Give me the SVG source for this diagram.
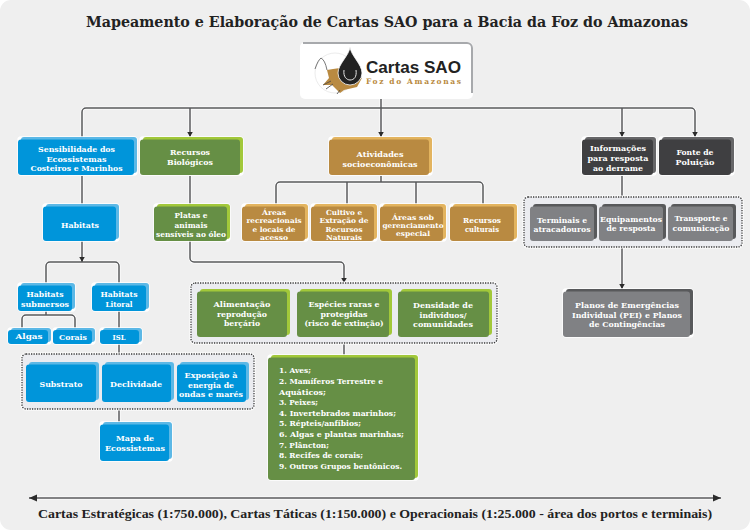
<svg xmlns="http://www.w3.org/2000/svg" width="750" height="530" viewBox="0 0 750 530">
<style>
text{font-family:"DejaVu Serif","Liberation Serif",serif;font-weight:700}
.t{fill:#fff;font-size:8px;text-anchor:middle}
.s{fill:#fff;font-size:7px;text-anchor:middle}
.l{fill:#fff;font-size:8.2px}
.halo{fill:#fff;stroke:#fff;stroke-width:1.4}
.b1{fill:#5cb8e6}.b2{fill:#0095da}
.g1{fill:#a2c83a}.g2{fill:#668f45}
.o1{fill:#e3b45f}.o2{fill:#b98a41}
.d1{fill:#666668}.d2{fill:#3f3f41}
.y1{fill:#58595b}.y2{fill:#808184}
.dot{fill:#ebecf0;stroke:#3c3c3c;stroke-width:1.3;stroke-dasharray:1.3 1.2}
.dothalo{fill:none;stroke:#fff;stroke-width:3}
.cw{fill:none;stroke:#fff;stroke-width:3}
.c{fill:none;stroke:#58595b;stroke-width:1.5}
</style>
<defs>
<marker id="a" markerUnits="userSpaceOnUse" markerWidth="6" markerHeight="6" refX="5.500" refY="3" orient="auto"><path d="M0 0L5.500 3L0 6Z" fill="#2b2b2b"/></marker>
<marker id="b" markerUnits="userSpaceOnUse" markerWidth="9" markerHeight="8" refX="8" refY="4" orient="auto-start-reverse"><path d="M0 .5L8 4L0 7.500Z" fill="#2b2b2b"/></marker>
</defs>
<rect width="750" height="530" fill="#fff"/>
<rect x="0" y="0" width="750" height="530" rx="11" fill="#efefef"/>
<text x="387" y="27" font-size="15.500" text-anchor="middle" fill="#222" textLength="602" lengthAdjust="spacingAndGlyphs">Mapeamento e Elaboração de Cartas SAO para a Bacia da Foz do Amazonas</text>

<g id="connectors">
<g class="cw">
<path d="M82 137V112a4 4 0 0 1 4-4H691a4 4 0 0 1 4 4V137M190 108V137M381 98V137M622 108V137"/>
<path d="M82 176V204M82 241V262M46 283V266a4 4 0 0 1 4-4H115a4 4 0 0 1 4 4V283"/>
<path d="M190 176V204M190 241V258a4 4 0 0 0 4 4H340a4 4 0 0 1 4 4V283"/>
<path d="M381 176V182M276 204V186a4 4 0 0 1 4-4H479a4 4 0 0 1 4 4V204M347 182V204M416 182V204"/>
<path d="M46 311V315M22 328V319a4 4 0 0 1 4-4H71a4 4 0 0 1 4 4V328M119 311V328M119 344V354M119 409V422"/>
<path d="M344 343V355M622 176V197M622 247V289"/>
<path d="M30 498H721"/>
</g>
<g class="c">
<path d="M82 137V112a4 4 0 0 1 4-4H691a4 4 0 0 1 4 4V137" marker-end="url(#a)"/>
<path d="M190 108V137" marker-end="url(#a)"/><path d="M381 98V137" marker-end="url(#a)"/><path d="M622 108V137" marker-end="url(#a)"/>
<path d="M82 176V204"/><path d="M82 241V262" marker-end="url(#a)"/>
<path d="M46 283V266a4 4 0 0 1 4-4H115a4 4 0 0 1 4 4V283"/>
<path d="M190 176V204"/><path d="M190 241V258a4 4 0 0 0 4 4H340a4 4 0 0 1 4 4V283" marker-end="url(#a)"/>
<path d="M381 176V182"/><path d="M276 204V186a4 4 0 0 1 4-4H479a4 4 0 0 1 4 4V204"/><path d="M347 182V204"/><path d="M416 182V204"/>
<path d="M46 311V315"/><path d="M22 328V319a4 4 0 0 1 4-4H71a4 4 0 0 1 4 4V328"/>
<path d="M119 311V328"/><path d="M119 344V354"/><path d="M119 409V422"/>
<path d="M344 343V355"/><path d="M622 176V197"/><path d="M622 247V289" marker-end="url(#a)"/>
<path d="M29 498H721" marker-start="url(#b)" marker-end="url(#b)"/>
</g>
</g>

<g id="logo">
<rect x="300" y="42" width="173" height="57" rx="5" fill="#fff"/>
<path d="M303 43H467a5 5 0 0 1 5 5V93" fill="none" stroke="#a7a9ac" stroke-width="2"/>
<circle cx="335" cy="73" r="20" fill="none" stroke="#ececec" stroke-width="1"/>
<path d="M327 70L333 69L340 68L344 80L354 80L362 78L357 87L344 90L340 93L332 85L323 85L329 78Z" fill="#b98a41"/>
<path d="M315 69Q318 60 321 58Q325 60 327 70" fill="none" stroke="#555" stroke-width="0.8"/>
<path d="M323 85L331 81M326 89L333 84M337 94L340 90" stroke="#444" stroke-width="0.8" fill="none"/>
<path d="M350 47C351 56 362 64 362 73A12 12 0 0 1 338 73C338 64 349 56 350 47Z" fill="#222" stroke="#fff" stroke-width="0.8"/>
<path d="M344 70C343 77 347 80 350 80C354 80 357 77 356 70" fill="none" stroke="#e8e8e8" stroke-width="1"/>
<text x="366" y="73" font-size="17" textLength="95" lengthAdjust="spacingAndGlyphs" fill="#222" style="font-family:'Liberation Sans',sans-serif">Cartas SAO</text>
<text x="366" y="84" font-size="7.500" textLength="95" fill="#b98a41">Foz do Amazonas</text>
</g>

<g id="n-sens"><rect class="halo" x="18" y="137" width="119" height="38" rx="3"/><rect class="b1" x="21" y="137" width="116" height="36" rx="3"/><rect class="b2" x="18" y="139.500" width="116" height="35.500" rx="3"/>
<text class="t" x="76.500" y="152" textLength="77" lengthAdjust="spacingAndGlyphs">Sensibilidade dos</text><text class="t" x="76.500" y="161.500" textLength="60" lengthAdjust="spacingAndGlyphs">Ecossistemas</text><text class="t" x="76.500" y="171" textLength="92" lengthAdjust="spacingAndGlyphs">Costeiros e Marinhos</text></g>

<g id="n-rec"><rect class="halo" x="140" y="137" width="103" height="38" rx="3"/><rect class="g1" x="143" y="137" width="100" height="36" rx="3"/><rect class="g2" x="140" y="139.500" width="100" height="35.500" rx="3"/>
<text class="t" x="190" y="155" textLength="40" lengthAdjust="spacingAndGlyphs">Recursos</text><text class="t" x="190" y="165" textLength="46" lengthAdjust="spacingAndGlyphs">Biológicos</text></g>

<g id="n-ativ"><rect class="halo" x="329" y="137" width="103" height="38" rx="3"/><rect class="o1" x="332" y="137" width="100" height="36" rx="3"/><rect class="o2" x="329" y="139.500" width="100" height="35.500" rx="3"/>
<text class="t" x="380" y="157" textLength="47" lengthAdjust="spacingAndGlyphs">Atividades</text><text class="t" x="380" y="166.500" textLength="75" lengthAdjust="spacingAndGlyphs">socioeconômicas</text></g>

<g id="n-info"><rect class="halo" x="582" y="137" width="74" height="38" rx="3"/><rect class="d1" x="585" y="137" width="71" height="36" rx="3"/><rect class="d2" x="582" y="139.500" width="71" height="35.500" rx="3"/>
<text class="t" x="618" y="151" textLength="56" lengthAdjust="spacingAndGlyphs">Informações</text><text class="t" x="618" y="161" textLength="61" lengthAdjust="spacingAndGlyphs">para resposta</text><text class="t" x="618" y="171" textLength="50" lengthAdjust="spacingAndGlyphs">ao derrame</text></g>

<g id="n-fonte"><rect class="halo" x="659" y="137" width="75" height="38" rx="3"/><rect class="d1" x="662" y="137" width="72" height="36" rx="3"/><rect class="d2" x="659" y="139.500" width="72" height="35.500" rx="3"/>
<text class="t" x="695" y="155" textLength="37" lengthAdjust="spacingAndGlyphs">Fonte de</text><text class="t" x="695" y="165" textLength="39" lengthAdjust="spacingAndGlyphs">Poluição</text></g>

<g id="n-hab"><rect class="halo" x="43" y="204" width="76" height="37" rx="3"/><rect class="b1" x="46" y="204" width="73" height="35" rx="3"/><rect class="b2" x="43" y="206.500" width="73" height="34.500" rx="3"/>
<text class="t" x="80" y="228" textLength="38" lengthAdjust="spacingAndGlyphs">Habitats</text></g>

<g id="n-plat"><rect class="halo" x="154" y="204" width="76" height="37" rx="3"/><rect class="g1" x="157" y="204" width="73" height="35" rx="3"/><rect class="g2" x="154" y="206.500" width="73" height="34.500" rx="3"/>
<text class="t" x="191" y="218" textLength="33" lengthAdjust="spacingAndGlyphs">Platas e</text><text class="t" x="191" y="227.500" textLength="33" lengthAdjust="spacingAndGlyphs">animais</text><text class="t" x="191" y="237" textLength="70" lengthAdjust="spacingAndGlyphs">sensíveis ao óleo</text></g>

<g id="n-areas"><rect class="halo" x="242" y="204" width="66" height="37" rx="3"/><rect class="o1" x="245" y="204" width="63" height="35" rx="3"/><rect class="o2" x="242" y="206.500" width="63" height="34.500" rx="3"/>
<text class="s" x="274" y="215" textLength="24" lengthAdjust="spacingAndGlyphs">Áreas</text><text class="s" x="274" y="223.300" textLength="55" lengthAdjust="spacingAndGlyphs">recreacionais</text><text class="s" x="274" y="231.600" textLength="43" lengthAdjust="spacingAndGlyphs">e locais de</text><text class="s" x="274" y="239.800" textLength="28" lengthAdjust="spacingAndGlyphs">acesso</text></g>

<g id="n-cult"><rect class="halo" x="311" y="204" width="66" height="37" rx="3"/><rect class="o1" x="314" y="204" width="63" height="35" rx="3"/><rect class="o2" x="311" y="206.500" width="63" height="34.500" rx="3"/>
<text class="s" x="344" y="215" textLength="36" lengthAdjust="spacingAndGlyphs">Cultivo e</text><text class="s" x="344" y="223.300" textLength="49" lengthAdjust="spacingAndGlyphs">Extração de</text><text class="s" x="344" y="231.600" textLength="37" lengthAdjust="spacingAndGlyphs">Recursos</text><text class="s" x="344" y="239.800" textLength="36" lengthAdjust="spacingAndGlyphs">Naturais</text></g>

<g id="n-sob"><rect class="halo" x="380" y="204" width="66" height="37" rx="3"/><rect class="o1" x="383" y="204" width="63" height="35" rx="3"/><rect class="o2" x="380" y="206.500" width="63" height="34.500" rx="3"/>
<text class="s" x="413" y="219.500" textLength="42" lengthAdjust="spacingAndGlyphs">Áreas sob</text><text class="s" x="413" y="227.800" textLength="61" lengthAdjust="spacingAndGlyphs">gerenciamento</text><text class="s" x="413" y="236.100" textLength="34" lengthAdjust="spacingAndGlyphs">especial</text></g>

<g id="n-cul"><rect class="halo" x="450" y="204" width="67" height="37" rx="3"/><rect class="o1" x="453" y="204" width="64" height="35" rx="3"/><rect class="o2" x="450" y="206.500" width="64" height="34.500" rx="3"/>
<text class="t" x="482" y="222.500" textLength="38" lengthAdjust="spacingAndGlyphs">Recursos</text><text class="t" x="482" y="231.800" textLength="34" lengthAdjust="spacingAndGlyphs">culturais</text></g>

<rect class="dothalo" x="524" y="197" width="218" height="50" rx="4"/><rect class="dot" x="524" y="197" width="218" height="50" rx="4"/>
<g id="n-term"><rect class="y1" x="533" y="204" width="64" height="35" rx="3"/><rect class="y2" x="530" y="206.500" width="64" height="34.500" rx="3"/>
<text class="t" x="562" y="222.500" textLength="50" lengthAdjust="spacingAndGlyphs">Terminais e</text><text class="t" x="562" y="232" textLength="57" lengthAdjust="spacingAndGlyphs">atracadouros</text></g>
<g id="n-equi"><rect class="y1" x="602" y="204" width="64" height="35" rx="3"/><rect class="y2" x="599" y="206.500" width="64" height="34.500" rx="3"/>
<text class="t" x="631" y="221.500" textLength="62" lengthAdjust="spacingAndGlyphs">Equipamentos</text><text class="t" x="631" y="231" textLength="49" lengthAdjust="spacingAndGlyphs">de resposta</text></g>
<g id="n-trans"><rect class="y1" x="671" y="204" width="65" height="35" rx="3"/><rect class="y2" x="668" y="206.500" width="65" height="34.500" rx="3"/>
<text class="t" x="701" y="221" textLength="53" lengthAdjust="spacingAndGlyphs">Transporte e</text><text class="t" x="701" y="231" textLength="57" lengthAdjust="spacingAndGlyphs">comunicação</text></g>

<g id="n-sub"><rect class="halo" x="18" y="283" width="57" height="28" rx="3"/><rect class="b1" x="21" y="283" width="54" height="26" rx="3"/><rect class="b2" x="18" y="285.500" width="54" height="25.500" rx="3"/>
<text class="t" x="45" y="297" textLength="37" lengthAdjust="spacingAndGlyphs">Habitats</text><text class="t" x="45" y="307" textLength="48" lengthAdjust="spacingAndGlyphs">submersos</text></g>
<g id="n-lit"><rect class="halo" x="92" y="283" width="57" height="28" rx="3"/><rect class="b1" x="95" y="283" width="54" height="26" rx="3"/><rect class="b2" x="92" y="285.500" width="54" height="25.500" rx="3"/>
<text class="t" x="119" y="297" textLength="37" lengthAdjust="spacingAndGlyphs">Habitats</text><text class="t" x="119" y="307" textLength="27" lengthAdjust="spacingAndGlyphs">Litoral</text></g>
<g id="n-alg"><rect class="halo" x="8" y="328" width="43" height="16" rx="3"/><rect class="b1" x="11" y="328" width="40" height="14" rx="3"/><rect class="b2" x="8" y="330" width="40" height="14" rx="3"/>
<text class="t" x="29" y="339" textLength="27" lengthAdjust="spacingAndGlyphs">Algas</text></g>
<g id="n-cor"><rect class="halo" x="53" y="328" width="42" height="16" rx="3"/><rect class="b1" x="56" y="328" width="39" height="14" rx="3"/><rect class="b2" x="53" y="330" width="39" height="14" rx="3"/>
<text class="t" x="73" y="340" textLength="28" lengthAdjust="spacingAndGlyphs">Corais</text></g>
<g id="n-isl"><rect class="halo" x="100" y="328" width="42" height="16" rx="3"/><rect class="b1" x="103" y="328" width="39" height="14" rx="3"/><rect class="b2" x="100" y="330" width="39" height="14" rx="3"/>
<text class="t" x="119" y="340" textLength="13" lengthAdjust="spacingAndGlyphs">ISL</text></g>

<rect class="dothalo" x="22" y="354" width="232" height="55" rx="4"/><rect class="dot" x="22" y="354" width="232" height="55" rx="4"/>
<g id="n-subs"><rect class="b1" x="29" y="362" width="70" height="38" rx="3"/><rect class="b2" x="26" y="364.500" width="70" height="37.500" rx="3"/>
<text class="t" x="61" y="387" textLength="43" lengthAdjust="spacingAndGlyphs">Substrato</text></g>
<g id="n-decl"><rect class="b1" x="105" y="362" width="69" height="38" rx="3"/><rect class="b2" x="102" y="364.500" width="69" height="37.500" rx="3"/>
<text class="t" x="136" y="387" textLength="52" lengthAdjust="spacingAndGlyphs">Declividade</text></g>
<g id="n-expo"><rect class="b1" x="180" y="362" width="69" height="38" rx="3"/><rect class="b2" x="177" y="364.500" width="69" height="37.500" rx="3"/>
<text class="t" x="211" y="378" textLength="53" lengthAdjust="spacingAndGlyphs">Exposição à</text><text class="t" x="211" y="387.500" textLength="46" lengthAdjust="spacingAndGlyphs">energia de</text><text class="t" x="211" y="397" textLength="64" lengthAdjust="spacingAndGlyphs">ondas e marés</text></g>
<g id="n-mapa"><rect class="halo" x="100" y="422" width="72" height="39" rx="3"/><rect class="b1" x="103" y="422" width="69" height="37" rx="3"/><rect class="b2" x="100" y="424.500" width="69" height="36.500" rx="3"/>
<text class="t" x="135" y="441" textLength="38" lengthAdjust="spacingAndGlyphs">Mapa de</text><text class="t" x="135" y="451" textLength="60" lengthAdjust="spacingAndGlyphs">Ecossistemas</text></g>

<rect class="dothalo" x="191" y="283" width="306" height="60" rx="4"/><rect class="dot" x="191" y="283" width="306" height="60" rx="4"/>
<g id="n-alim"><rect class="g1" x="200" y="289" width="90" height="46" rx="3"/><rect class="g2" x="197" y="291.500" width="90" height="45.500" rx="3"/>
<text class="t" x="242" y="307" textLength="57" lengthAdjust="spacingAndGlyphs">Alimentação</text><text class="t" x="242" y="316.500" textLength="50" lengthAdjust="spacingAndGlyphs">reprodução</text><text class="t" x="242" y="326" textLength="36" lengthAdjust="spacingAndGlyphs">berçário</text></g>
<g id="n-esp"><rect class="g1" x="300" y="289" width="92" height="46" rx="3"/><rect class="g2" x="297" y="291.500" width="92" height="45.500" rx="3"/>
<text class="t" x="344" y="307" textLength="71" lengthAdjust="spacingAndGlyphs">Espécies raras e</text><text class="t" x="344" y="316.500" textLength="47" lengthAdjust="spacingAndGlyphs">protegidas</text><text class="t" x="344" y="326" textLength="79" lengthAdjust="spacingAndGlyphs">(risco de extinção)</text></g>
<g id="n-dens"><rect class="g1" x="401" y="289" width="91" height="46" rx="3"/><rect class="g2" x="398" y="291.500" width="91" height="45.500" rx="3"/>
<text class="t" x="443" y="308" textLength="60" lengthAdjust="spacingAndGlyphs">Densidade de</text><text class="t" x="443" y="317.500" textLength="47" lengthAdjust="spacingAndGlyphs">indivíduos/</text><text class="t" x="443" y="327" textLength="60" lengthAdjust="spacingAndGlyphs">comunidades</text></g>

<g id="n-plan"><rect class="halo" x="563" y="289" width="130" height="48" rx="3"/><rect class="y1" x="566" y="289" width="127" height="46" rx="3"/><rect class="y2" x="563" y="291.500" width="127" height="45.500" rx="3"/>
<text class="t" x="627" y="308" textLength="104" lengthAdjust="spacingAndGlyphs">Planos de Emergências</text><text class="t" x="627" y="317.500" textLength="110" lengthAdjust="spacingAndGlyphs">Individual (PEI) e Planos</text><text class="t" x="627" y="327" textLength="76" lengthAdjust="spacingAndGlyphs">de Contingências</text></g>

<g id="n-list"><rect class="halo" x="268" y="355" width="150" height="125" rx="3"/><rect class="g1" x="271" y="355" width="147" height="123" rx="3"/><rect class="g2" x="268" y="357.500" width="147" height="122.500" rx="3"/>
<text class="l" x="279" y="373" textLength="32" lengthAdjust="spacingAndGlyphs">1. Aves;</text>
<text class="l" x="279" y="384" textLength="104" lengthAdjust="spacingAndGlyphs">2. Mamíferos Terrestre e</text>
<text class="l" x="279" y="395" textLength="47" lengthAdjust="spacingAndGlyphs">Aquáticos;</text>
<text class="l" x="279" y="405" textLength="39" lengthAdjust="spacingAndGlyphs">3. Peixes;</text>
<text class="l" x="279" y="416" textLength="117" lengthAdjust="spacingAndGlyphs">4. Invertebrados marinhos;</text>
<text class="l" x="279" y="426" textLength="82" lengthAdjust="spacingAndGlyphs">5. Répteis/anfíbios;</text>
<text class="l" x="279" y="437" textLength="125" lengthAdjust="spacingAndGlyphs">6. Algas e plantas marinhas;</text>
<text class="l" x="279" y="448" textLength="50" lengthAdjust="spacingAndGlyphs">7. Plâncton;</text>
<text class="l" x="279" y="458" textLength="84" lengthAdjust="spacingAndGlyphs">8. Recifes de corais;</text>
<text class="l" x="279" y="469" textLength="123" lengthAdjust="spacingAndGlyphs">9. Outros Grupos bentônicos.</text></g>

<text x="375" y="518" font-size="13.500" text-anchor="middle" fill="#222" textLength="674" lengthAdjust="spacingAndGlyphs" style="font-family:'Liberation Serif',serif">Cartas Estratégicas (1:750.000), Cartas Táticas (1:150.000) e Operacionais (1:25.000 - área dos portos e terminais)</text>
</svg>
